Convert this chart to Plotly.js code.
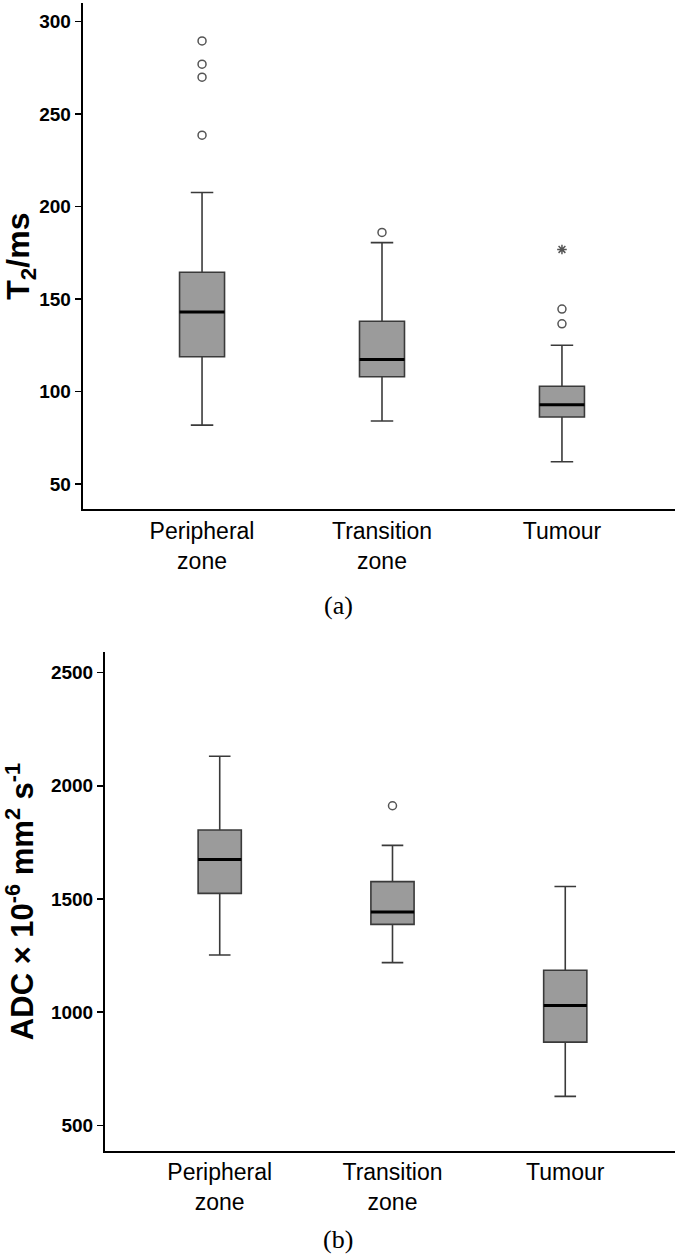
<!DOCTYPE html>
<html>
<head>
<meta charset="utf-8">
<script src="https://cdn.plot.ly/plotly-3.0.1.min.js"></script>
<style>html,body{margin:0;padding:0;background:#fff;}#chart{width:677px;height:1259px;}</style>
</head>
<body>
<div id="chart"></div>
<script>
// Categories and tick labels
const categories = ["Peripheral zone", "Transition zone", "Tumour"];
const categoryLabels = ["Peripheral<br>zone", "Transition<br>zone", "Tumour"];

// (a) T2 (ms) box statistics
const t2Lower  = [81.8, 84.0, 62.0];
const t2Q1     = [118.8, 108.0, 86.2];
const t2Median = [143.0, 117.3, 92.8];
const t2Q3     = [164.5, 138.0, 102.8];
const t2Upper  = [207.6, 180.5, 125.0];
// (a) outliers (circles) and extreme value (star)
const t2OutlierCats = ["Peripheral zone", "Peripheral zone", "Peripheral zone", "Peripheral zone", "Transition zone", "Tumour", "Tumour"];
const t2OutlierVals = [289.6, 277.0, 270.0, 238.6, 186.0, 144.6, 136.6];
const t2ExtremeCats = ["Tumour"];
const t2ExtremeVals = [176.8];

// (b) ADC (x10^-6 mm^2 s^-1) box statistics
const adcLower  = [1253, 1219, 628];
const adcQ1     = [1525, 1388, 868];
const adcMedian = [1675, 1443, 1030];
const adcQ3     = [1805, 1577, 1185];
const adcUpper  = [2131, 1737, 1555];
const adcOutlierCats = ["Transition zone"];
const adcOutlierVals = [1912];

// Axis ticks
const t2Ticks = [50, 100, 150, 200, 250, 300];
const adcTicks = [500, 1000, 1500, 2000, 2500];

const BOXW = 0.25;
const FILL = "#9b9b9b";
const EDGE = "#3a3a3a";

function boxTrace(q1, med, q3, lo, hi, xa, ya) {
  return {
    type: "box", x: categories, q1: q1, median: med, q3: q3,
    lowerfence: lo, upperfence: hi, boxpoints: false,
    width: BOXW, whiskerwidth: 0.5, fillcolor: FILL,
    line: { color: EDGE, width: 1.6 }, xaxis: xa, yaxis: ya,
    showlegend: false, hoverinfo: "skip"
  };
}
function pointTrace(cats, vals, symbol, size, xa, ya) {
  return {
    type: "scatter", mode: "markers", x: cats, y: vals, xaxis: xa, yaxis: ya,
    marker: { symbol: symbol, size: size, color: "#555", line: { color: "#555", width: 1.5 } },
    showlegend: false, hoverinfo: "skip"
  };
}

const data = [
  boxTrace(t2Q1, t2Median, t2Q3, t2Lower, t2Upper, "x", "y"),
  pointTrace(t2OutlierCats, t2OutlierVals, "circle-open", 8, "x", "y"),
  pointTrace(t2ExtremeCats, t2ExtremeVals, "asterisk-open", 8, "x", "y"),
  boxTrace(adcQ1, adcMedian, adcQ3, adcLower, adcUpper, "x2", "y2"),
  pointTrace(adcOutlierCats, adcOutlierVals, "circle-open", 8, "x2", "y2")
];

// Thick median lines drawn through the axis scales
const shapes = [];
t2Median.forEach((m, i) => shapes.push({ type: "line", xref: "x", yref: "y", x0: i - BOXW / 2, x1: i + BOXW / 2, y0: m, y1: m, line: { color: "#000", width: 3 } }));
adcMedian.forEach((m, i) => shapes.push({ type: "line", xref: "x2", yref: "y2", x0: i - BOXW / 2, x1: i + BOXW / 2, y0: m, y1: m, line: { color: "#000", width: 3 } }));

const tickFontY = { family: "Liberation Sans, Arial, sans-serif", size: 19, color: "#000", weight: "bold" };
const tickFontX = { family: "Liberation Sans, Arial, sans-serif", size: 23, color: "#000" };

function xAxis(domain, range, anchor) {
  return {
    domain: domain, range: range, anchor: anchor, type: "category",
    categoryorder: "array", categoryarray: categories,
    tickvals: categories, ticktext: categoryLabels,
    showline: true, linecolor: "#000", linewidth: 2, ticks: "",
    showgrid: false, zeroline: false, tickfont: tickFontX, fixedrange: true
  };
}
function yAxis(domain, range, anchor, ticks, title, standoff, tsize) {
  return {
    domain: domain, range: range, anchor: anchor,
    tickvals: ticks, ticks: "outside", ticklen: 6, tickwidth: 1.5, tickcolor: "#000",
    showline: true, linecolor: "#000", linewidth: 2, showgrid: false, zeroline: false,
    tickfont: tickFontY, fixedrange: true,
    title: { text: title, standoff: standoff, font: { family: "Liberation Sans, Arial, sans-serif", size: tsize, color: "#000", weight: "bold" } }
  };
}

const layout = {
  width: 677, height: 1259,
  margin: { l: 0, r: 0, t: 0, b: 0 },
  paper_bgcolor: "#fff", plot_bgcolor: "#fff",
  showlegend: false,
  xaxis: xAxis([0.1222, 0.997], [-0.663, 2.628], "y"),
  yaxis: yAxis([0.5955, 0.9976], [36.3, 310.1], "x", t2Ticks, "T<sub>2</sub>/ms", 10, 32),
  xaxis2: xAxis([0.1551, 0.997], [-0.664, 2.635], "y2"),
  yaxis2: yAxis([0.0860, 0.4819], [388, 2590], "x2", adcTicks, "ADC × 10<sup>-6</sup> mm<sup>2</sup> s<sup>-1</sup>", 24, 31),
  shapes: shapes,
  annotations: [
    { text: "(a)", xref: "paper", yref: "paper", x: 0.4993, y: 0.5187, showarrow: false, xanchor: "center", yanchor: "middle", font: { family: "Liberation Serif, Times New Roman, serif", size: 26, color: "#000" } },
    { text: "(b)", xref: "paper", yref: "paper", x: 0.4993, y: 0.0151, showarrow: false, xanchor: "center", yanchor: "middle", font: { family: "Liberation Serif, Times New Roman, serif", size: 26, color: "#000" } }
  ]
};

Plotly.newPlot("chart", data, layout, { staticPlot: true, displayModeBar: false });
</script>
</body>
</html>
